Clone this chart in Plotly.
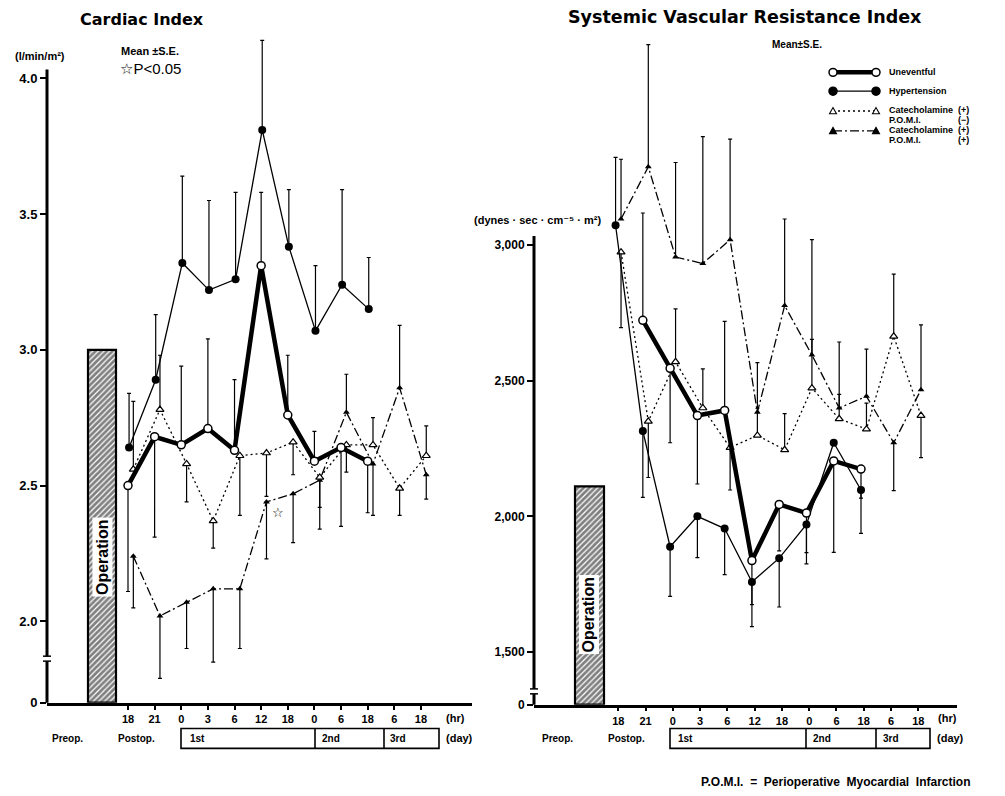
import plotly.graph_objects as go

W, H = 1005, 796

# ---------------- data ----------------
HOURS = ["18", "21", "0", "3", "6", "12", "18", "0", "6", "18", "6", "18"]
X = list(range(len(HOURS)))

# Cardiac index (l/min/m2)  -- mean and S.E. (upper / lower)
CI_UNEV = [2.50, 2.68, 2.65, 2.71, 2.63, 3.31, 2.76, 2.59, 2.64, 2.59]
CI_UNEV_UP = [0, 0, 0.29, 0.33, 0.26, 0.27, 0.22, 0.11, 0, 0]
CI_UNEV_DN = [0.39, 0.37, 0, 0, 0, 0, 0, 0, 0.29, 0.19]
CI_HYP = [2.64, 2.89, 3.32, 3.22, 3.26, 3.81, 3.38, 3.07, 3.24, 3.15]
CI_HYP_UP = [0.20, 0.24, 0.32, 0.33, 0.32, 0.33, 0.21, 0.24, 0.35, 0.19]
CI_HYP_DN = [0, 0, 0, 0, 0, 0, 0, 0, 0, 0]
CI_CATM = [2.56, 2.78, 2.58, 2.37, 2.61, 2.62, 2.66, 2.53, 2.65, 2.65, 2.49, 2.61]
CI_CATM_UP = [0.25, 0.20, 0, 0, 0, 0, 0, 0, 0, 0.10, 0, 0.11]
CI_CATM_DN = [0, 0, 0.14, 0.10, 0.22, 0.16, 0.12, 0.11, 0.10, 0, 0.10, 0]
CI_CATP = [2.24, 2.02, 2.07, 2.12, 2.12, 2.44, 2.47, 2.52, 2.77, 2.58, 2.86, 2.54]
CI_CATP_UP = [0, 0, 0, 0, 0, 0, 0, 0, 0.14, 0, 0.23, 0]
CI_CATP_DN = [0.19, 0.23, 0.17, 0.27, 0.22, 0.21, 0.18, 0.18, 0, 0.19, 0, 0.09]

# Systemic vascular resistance index (dynes.sec.cm-5.m2)
SV_UNEV = [None, 2722, 2545, 2371, 2390, 1837, 2044, 2012, 2204, 2174]
SV_UNEV_UP = [0, 395, 0, 0, 328, 0, 0, 0, 0, 0]
SV_UNEV_DN = [0, 0, 274, 252, 0, 243, 171, 146, 337, 237]
SV_HYP = [3072, 2314, 1888, 2000, 1955, 1758, 1846, 1970, 2271, 2097]
SV_HYP_UP = [250, 0, 0, 0, 0, 0, 0, 0, 0, 0]
SV_HYP_DN = [0, 244, 183, 152, 170, 83, 180, 145, 0, 30]
SV_CATM = [2973, 2350, 2569, 2399, 2253, 2298, 2245, 2472, 2359, 2321, 2663, 2371]
SV_CATM_UP = [0, 0, 195, 144, 0, 100, 133, 180, 90, 96, 229, 0]
SV_CATM_DN = [278, 207, 0, 0, 156, 0, 0, 0, 0, 0, 0, 155]
SV_CATP = [3095, 3287, 2955, 2931, 3019, 2383, 2776, 2594, 2399, 2442, 2271, 2466]
SV_CATP_UP = [220, 450, 348, 467, 370, 183, 319, 425, 243, 174, 0, 239]
SV_CATP_DN = [0, 0, 0, 0, 0, 0, 0, 0, 0, 0, 176, 0]

CI_TICKS = [2.0, 2.5, 3.0, 3.5, 4.0]
CI_TICKTEXT = ["2.0", "2.5", "3.0", "3.5", "4.0"]
SV_TICKS = [1500, 2000, 2500, 3000]
SV_TICKTEXT = ["1,500", "2,000", "2,500", "3,000"]
OP_TOP_CI = 3.0
OP_TOP_SV = 2110

# ---------------- layout helpers ----------------
def px(x):
    return x / W


def py(y):
    return 1 - y / H


FONT = "Liberation Sans, Arial, Helvetica, DejaVu Sans, sans-serif"
TFONT = "DejaVu Sans, Liberation Sans, sans-serif"

# broken-axis "0" positions (display units)
CI_ZERO = 2.0 - (709 - 627) / 274.0
CI_TOP = 2.0 + (627 - 38) / 274.0
SV_ZERO = 1500 - (711 - 658) * 500 / 137.0
SV_TOP = 1500 + (658 - 40) * 500 / 137.0

# pixel geometry of the category axes
CI_X0, CI_DX = 128.0, 26.63
SV_X0, SV_DX = 618.3, 27.27

DASH = {"unev": "solid", "hyp": "solid", "catm": "2px,3px",
        "catp": "9px,3px,2px,3px"}
LW = {"unev": 4.5, "hyp": 1.3, "catm": 1.3, "catp": 1.3}

STY = {
    "unev": dict(line=dict(color="black", width=LW["unev"]),
                 marker=dict(symbol="circle", size=8, color="white",
                             line=dict(color="black", width=1.5))),
    "hyp": dict(line=dict(color="black", width=LW["hyp"]),
                marker=dict(symbol="circle", size=8, color="black",
                            line=dict(color="black", width=0))),
    "catm": dict(line=dict(color="black", width=LW["catm"], dash=DASH["catm"]),
                 marker=dict(symbol="triangle-up", size=7, color="white",
                             line=dict(color="black", width=1.2))),
    "catp": dict(line=dict(color="black", width=LW["catp"], dash=DASH["catp"]),
                 marker=dict(symbol="triangle-up", size=6, color="black",
                             line=dict(color="black", width=0))),
}

fig = go.Figure()


def series(xa, ya, y, up, dn, dx, key):
    xs = [i + dx for i in range(len(y))]
    st = STY[key]
    fig.add_trace(go.Scatter(
        x=xs, y=y, xaxis=xa, yaxis=ya, mode="lines+markers",
        line=st["line"], marker=st["marker"],
        error_y=dict(type="data", symmetric=False, array=up, arrayminus=dn,
                     color="black", thickness=1.2, width=2),
        showlegend=False, cliponaxis=False, hoverinfo="x+y"))


def op_bar(xa, ya, left_px, right_px, x0, dx, base, top):
    center = ((left_px + right_px) / 2 - x0) / dx
    width = (right_px - left_px) / dx
    fig.add_trace(go.Bar(
        x=[center], y=[top - base], base=[base], width=[width],
        xaxis=xa, yaxis=ya, showlegend=False, hoverinfo="skip",
        marker=dict(color="white",
                    pattern=dict(shape="/", fgcolor="black", bgcolor="white",
                                 size=4, solidity=0.7),
                    line=dict(color="black", width=2.2))))


# operation bars
op_bar("x", "y", 88, 116, CI_X0, CI_DX, CI_ZERO, OP_TOP_CI)
op_bar("x2", "y2", 575, 604, SV_X0, SV_DX, SV_ZERO, OP_TOP_SV)

# left chart series
series("x", "y", CI_CATP, CI_CATP_UP, CI_CATP_DN, 0.2, "catp")
series("x", "y", CI_CATM, CI_CATM_UP, CI_CATM_DN, 0.2, "catm")
series("x", "y", CI_HYP, CI_HYP_UP, CI_HYP_DN, 0.04, "hyp")
series("x", "y", CI_UNEV, CI_UNEV_UP, CI_UNEV_DN, 0.0, "unev")

# right chart series
series("x2", "y2", SV_CATP, SV_CATP_UP, SV_CATP_DN, 0.1, "catp")
series("x2", "y2", SV_CATM, SV_CATM_UP, SV_CATM_DN, 0.1, "catm")
series("x2", "y2", SV_HYP, SV_HYP_UP, SV_HYP_DN, -0.1, "hyp")
series("x2", "y2", SV_UNEV, SV_UNEV_UP, SV_UNEV_DN, -0.1, "unev")

# ---------------- axes ----------------
def xax(dom, rng):
    return dict(domain=dom, range=rng, tickmode="array", tickvals=X,
                ticktext=HOURS, ticks="outside", ticklen=4, tickwidth=1.5,
                tickcolor="black", showline=True, linewidth=2.5,
                linecolor="black", showgrid=False, zeroline=False,
                tickfont=dict(family=FONT, size=11, color="black", weight="bold"),
                fixedrange=True)


def yax(dom, rng, vals, text, size):
    return dict(domain=dom, range=rng, tickmode="array", tickvals=vals,
                ticktext=text, ticks="outside", ticklen=6, tickwidth=2,
                tickcolor="black", showline=False, showgrid=False,
                zeroline=False,
                tickfont=dict(family=FONT, size=size, color="black", weight="bold"),
                fixedrange=True)


fig.update_layout(
    width=W, height=H, autosize=False,
    margin=dict(l=0, r=0, t=0, b=0, pad=0),
    paper_bgcolor="white", plot_bgcolor="rgba(0,0,0,0)",
    barmode="overlay", showlegend=False,
    font=dict(family=FONT, color="black"),
    xaxis=dict(xax([px(47), px(472)],
                   [(47 - CI_X0) / CI_DX, (472 - CI_X0) / CI_DX]), anchor="y"),
    yaxis=dict(yax([py(709), py(38)], [CI_ZERO - 0.0005, CI_TOP],
                   [CI_ZERO] + CI_TICKS, ["0"] + CI_TICKTEXT, 13), anchor="x"),
    xaxis2=dict(xax([px(534), px(957)],
                    [(534 - SV_X0) / SV_DX, (957 - SV_X0) / SV_DX]), anchor="y2"),
    yaxis2=dict(yax([py(711), py(40)], [SV_ZERO - 0.5, SV_TOP],
                    [SV_ZERO] + SV_TICKS, ["0"] + SV_TICKTEXT, 12), anchor="x2"),
)

# ---------------- shapes ----------------
shapes = []


def line_px(x0, y0, x1, y1, w=1.5, dash="solid"):
    shapes.append(dict(type="line", xref="paper", yref="paper",
                       x0=px(x0), y0=py(y0), x1=px(x1), y1=py(y1),
                       line=dict(color="black", width=w, dash=dash)))


# broken y-axes (left)
line_px(47, 709, 47, 667, 3)
line_px(47, 662, 47, 70, 3)
line_px(43, 667, 51, 667, 1.5)
line_px(43, 662, 51, 662, 1.5)
# broken y-axes (right)
line_px(534, 711, 534, 700, 3)
line_px(534, 695, 534, 238, 3)
line_px(530, 700, 538, 700, 1.5)
line_px(530, 695, 538, 695, 1.5)

# day boxes
for (x0, x1, d1, d2) in [(181, 439, 315, 384), (670, 930, 806, 876)]:
    shapes.append(dict(type="rect", xref="paper", yref="paper",
                       x0=px(x0), x1=px(x1), y0=py(755), y1=py(735),
                       line=dict(color="black", width=1.6)))
    line_px(d1, 735, d1, 755, 1.6)
    line_px(d2, 735, d2, 755, 1.6)


# legend key samples (drawn as shapes)
def key_marker(cx, cy, key):
    if key in ("unev", "hyp"):
        r = 4
        shapes.append(dict(type="circle", xref="paper", yref="paper",
                           x0=px(cx - r), x1=px(cx + r), y0=py(cy + r), y1=py(cy - r),
                           fillcolor="white" if key == "unev" else "black",
                           line=dict(color="black", width=1.5)))
    else:
        h = 3.5
        path = "M {:.5f},{:.5f} L {:.5f},{:.5f} L {:.5f},{:.5f} Z".format(
            px(cx - h), py(cy + h * 0.8), px(cx + h), py(cy + h * 0.8),
            px(cx), py(cy - h))
        shapes.append(dict(type="path", xref="paper", yref="paper", path=path,
                           fillcolor="white" if key == "catm" else "black",
                           line=dict(color="black", width=1.1)))


LEG_ROWS = [(73, "unev"), (92, "hyp"), (112, "catm"), (132, "catp")]
for yy, key in LEG_ROWS:
    line_px(833, yy, 876, yy, LW[key], DASH[key])
    key_marker(833, yy, key)
    key_marker(876, yy, key)

fig.update_layout(shapes=shapes)

# ---------------- annotations ----------------
ann = []


def text(x, y, s, size=10, bold=True, anchor="center", family=FONT, **kw):
    d = dict(x=px(x), y=py(y), xref="paper", yref="paper", text=s,
             showarrow=False, xanchor=anchor, yanchor="middle",
             font=dict(family=family, size=size, color="black",
                       weight="bold" if bold else "normal"))
    d.update(kw)
    ann.append(d)


text(142, 20, "Cardiac Index", 16, family=TFONT)
text(745, 17, "Systemic Vascular Resistance Index", 17.5, family=TFONT)
text(40, 57, "(l/min/m²)", 11)
text(119, 51, "Mean ±S.E.", 11, anchor="left")
text(118, 69, "☆P<0.05", 15, bold=False, anchor="left")
text(278, 517, "☆", 13, bold=False)
text(537, 222, "(dynes · sec · cm⁻⁵ · m²)", 11)
text(770, 45, "Mean±S.E.", 10, anchor="left")

# legend texts
text(887, 73, "Uneventful", 9, anchor="left")
text(887, 92, "Hypertension", 9, anchor="left")
text(887, 111, "Catecholamine", 9, anchor="left")
text(887, 121, "P.O.M.I.", 9, anchor="left")
text(956, 111, "(+)", 9, anchor="left")
text(956, 121, "(−)", 9, anchor="left")
text(887, 131, "Catecholamine", 9, anchor="left")
text(887, 141, "P.O.M.I.", 9, anchor="left")
text(956, 131, "(+)", 9, anchor="left")
text(956, 141, "(+)", 9, anchor="left")

# operation labels
text(102, 562, "Operation", 16, textangle=-90, bgcolor="white", borderpad=1)
text(589, 620, "Operation", 16, textangle=-90, bgcolor="white", borderpad=1)

# x axis extras
for (hx, prex, postx, b1, b2, b3, dayx) in [
        (455, 67, 136, 188, 320, 388, 459),
        (947, 557, 626, 676, 811, 881, 950)]:
    text(hx, 724, "(hr)", 11)
    text(prex, 745, "Preop.", 10)
    text(postx, 745, "Postop.", 10)
    text(b1, 745, "1st", 10, anchor="left")
    text(b2, 745, "2nd", 10, anchor="left")
    text(b3, 745, "3rd", 10, anchor="left")
    text(dayx, 745, "(day)", 11)

text(836, 789, "P.O.M.I.  =  Perioperative  Myocardial  Infarction", 12)

fig.update_layout(annotations=ann)

fig.write_html("out.html", include_plotlyjs=True, full_html=True,
               config={"displayModeBar": False},
               post_script="document.body.style.margin='0';")
